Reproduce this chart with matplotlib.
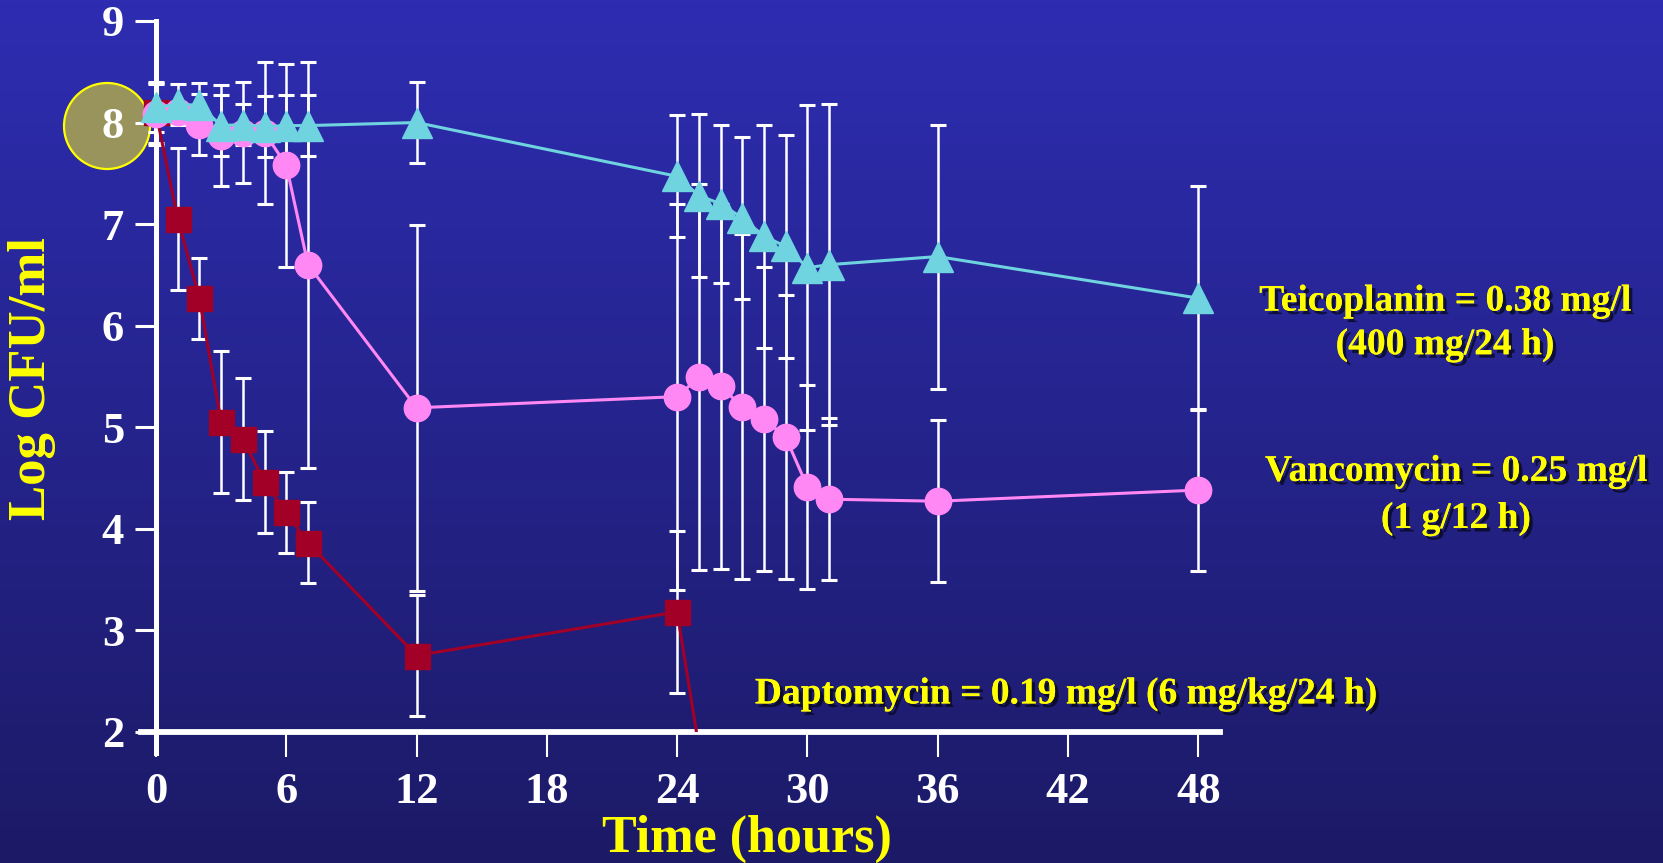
import numpy as np
import matplotlib
matplotlib.use('Agg')
import matplotlib.pyplot as plt
from matplotlib.patches import Rectangle, Ellipse
import matplotlib.patheffects as pe

plt.rcParams['font.family'] = ['Liberation Serif', 'DejaVu Serif']
plt.rcParams['font.weight'] = 'bold'

# time points (hours)
t_teico = [0, 1, 2, 3, 4, 5, 6, 7, 12, 24, 25, 26, 27, 28, 29, 30, 31, 36, 48]
t_vanco = [0, 1, 2, 3, 4, 5, 6, 7, 12, 24, 25, 26, 27, 28, 29, 30, 31, 36, 48]
t_dapto = [0, 1, 2, 3, 4, 5, 6, 7, 12, 24, 25]

# log CFU/ml and SD
teico = [8.15, 8.18, 8.17, 7.97, 7.98, 7.96, 7.97, 7.97, 8.0, 7.47, 7.28, 7.2, 7.06,
         6.88, 6.78, 6.57, 6.6, 6.68, 6.27]
teico_sd = [0.24, 0.2, 0.22, 0.3, 0.2, 0.3, 0.3, 0.3, 0.4, 0.6, 0.8, 0.78, 0.8,
            1.1, 1.1, 1.6, 1.58, 1.3, 1.1]
vanco = [8.08, 8.1, 7.98, 7.87, 7.9, 7.9, 7.58, 6.6, 5.19, 5.3, 5.49, 5.4, 5.2,
         5.08, 4.9, 4.41, 4.29, 4.27, 4.38]
vanco_sd = [0.3, 0.1, 0.3, 0.5, 0.5, 0.7, 1.0, 2.0, 1.8, 1.9, 1.9, 1.8, 1.7,
            1.5, 1.4, 1.0, 0.8, 0.8, 0.8]
# last daptomycin count is below the 2 log detection floor
dapto = [8.1, 7.05, 6.27, 5.05, 4.88, 4.46, 4.16, 3.86, 2.75, 3.18, 1.85]
dapto_sd = [0.3, 0.7, 0.4, 0.7, 0.6, 0.5, 0.4, 0.4, 0.6, 0.8]

xticks = [0, 6, 12, 18, 24, 30, 36, 42, 48]
yticks = [2, 3, 4, 5, 6, 7, 8, 9]

W, H = 1663, 863
fig = plt.figure(figsize=(W / 100, H / 100), dpi=100)

# gradient background
bg = fig.add_axes([0, 0, 1, 1], zorder=-10)
top = np.array([46, 45, 178]) / 255
bot = np.array([28, 26, 102]) / 255
g = np.linspace(0, 1, 256)[:, None, None]
grad = top * (1 - g) + bot * g
bg.imshow(np.repeat(grad, 2, axis=1), aspect='auto', extent=[0, 1, 0, 1])
bg.axis('off')

# highlight circle behind the "8" label
fig.patches.append(Ellipse((107 / W, 1 - 126 / H), 86 / W, 86 / H,
                           transform=fig.transFigure, facecolor='#99945C',
                           edgecolor='#FFFF00', lw=1.6, zorder=-5))

ax = fig.add_axes([141 / W, 1 - 753 / H, 1079 / W, 732 / H])
ax.set_facecolor('none')
ax.set_xlim(-0.69, 49.0)
ax.set_ylim(1.79, 9.0)

ax.spines['top'].set_visible(False)
ax.spines['right'].set_visible(False)
ax.spines['left'].set_position(('data', 0))
ax.spines['bottom'].set_position(('data', 2))
ax.spines['left'].set_color('white')
ax.spines['bottom'].set_color('white')
ax.spines['left'].set_linewidth(3.6)
ax.spines['bottom'].set_linewidth(4.2)
ax.spines['left'].set_zorder(1)
ax.spines['bottom'].set_zorder(1)

ax.set_xticks(xticks)
ax.set_yticks(yticks)
ax.tick_params(axis='x', direction='out', length=18, width=1.5, pad=11,
               labelsize=32, colors='white')
ax.tick_params(axis='y', direction='out', length=15, width=2.2, pad=8,
               labelsize=32, colors='white')

ebkw = dict(fmt='none', ecolor='white', elinewidth=1.8, capsize=6, capthick=2.2, zorder=2)
n = len(dapto_sd)
ax.errorbar(t_dapto[:n], dapto[:n], yerr=dapto_sd, **ebkw)
ax.errorbar(t_vanco, vanco, yerr=vanco_sd, **ebkw)
ax.errorbar(t_teico, teico, yerr=teico_sd, **ebkw)

clip = Rectangle((-1, 2), 60, 10, transform=ax.transData)
ld, = ax.plot(t_dapto, dapto, color='#A30028', lw=2.2, marker='s', ms=18,
              mec='#A30028', zorder=3)
ld.set_clip_path(clip)
ax.plot(t_vanco, vanco, color='#FF88F5', lw=2.2, marker='o', ms=19,
        mec='#FF88F5', zorder=4)
ax.plot(t_teico, teico, color='#6FD3E0', lw=2.2, marker='^', ms=21,
        mec='#6FD3E0', zorder=5)

shadow = [pe.withSimplePatchShadow(offset=(2.5, -2.5), shadow_rgbFace='black', alpha=0.6),
          pe.Normal()]
fig.text(1445 / W, 1 - 323 / H, 'Teicoplanin = 0.38 mg/l\n(400 mg/24 h)',
         color='#FFFF00', fontsize=27, ha='center', va='center', linespacing=1.32,
         path_effects=shadow)
fig.text(1456 / W, 1 - 495 / H, 'Vancomycin = 0.25 mg/l\n(1 g/12 h)',
         color='#FFFF00', fontsize=27, ha='center', va='center', linespacing=1.45,
         path_effects=shadow)
fig.text(1066 / W, 1 - 694 / H, 'Daptomycin = 0.19 mg/l (6 mg/kg/24 h)',
         color='#FFFF00', fontsize=27, ha='center', va='center',
         path_effects=shadow)

fig.text(32 / W, 1 - 379 / H, 'Log CFU/ml', color='#FFFF00', fontsize=38,
         rotation=90, ha='center', va='center')
fig.text(747 / W, 1 - 839 / H, 'Time (hours)', color='#FFFF00', fontsize=37.5,
         ha='center', va='center')

fig.savefig('out.png', dpi=100)
